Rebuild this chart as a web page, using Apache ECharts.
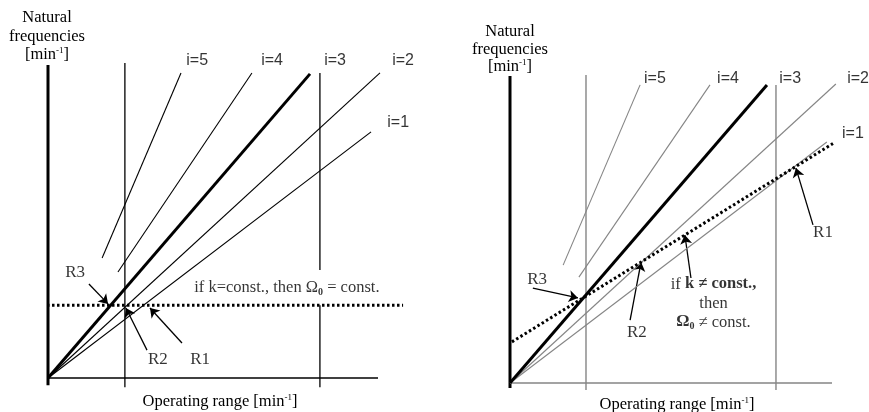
<!DOCTYPE html>
<html>
<head>
<meta charset="utf-8">
<script src="https://cdn.jsdelivr.net/npm/echarts@6/dist/echarts.min.js"></script>
<style>
html,body{margin:0;padding:0;background:#fff;}
#chart{width:869px;height:412px;}
</style>
</head>
<body>
<div id="chart"></div>
<script>
// ---------- DATA (units: operating range 0–100, natural frequency 0–100) ----------
// Left panel: k = const.
const leftAxisY      = [[0, -2.3], [0, 101]];
const leftAxisX      = [[0, 0], [100, 0]];
const leftRangeLo    = [[23.3, -3], [23.3, 101.6]];
const leftRangeHiTop = [[82.4, 34.8], [82.4, 98.4]];
const leftRangeHiBot = [[82.4, -3], [82.4, 23.5]];
const leftOrder1     = [[0, 0], [97.9, 79.4]];
const leftOrder2     = [[0, 0], [100.6, 98.4]];
const leftOrder3     = [[0, 0], [79.4, 98.1]];
const leftOrder4     = [[21.2, 34.2], [61.8, 98.4]];
const leftOrder5     = [[16.4, 38.7], [40.3, 98.4]];
const leftOmega      = [[-0.3, 23.5], [107.6, 23.5]];
const leftArrows     = [
  [[12.4, 30.3], [18.2, 23.9]],   // R3
  [[30.0, 9.0], [23.6, 22.6]],    // R2
  [[40.6, 11.3], [30.9, 22.6]]    // R1
];
const leftOrderLabels    = ['i=5', 'i=4', 'i=3', 'i=2', 'i=1'];
const leftOrderLabelAt   = [[45.2, 102.3], [67.9, 102.3], [87.0, 102.3], [107.6, 102.3], [106.1, 82.3]];
const leftResLabels      = ['R3', 'R2', 'R1'];
const leftResLabelAt     = [[8.2, 33.9], [33.3, 6.1], [46.1, 6.1]];
const leftNoteAt         = [[72.4, 29.0]];

// Right panel: k ≠ const.
const rightAxisY     = [[0, -1.6], [0, 100]];
const rightAxisX     = [[0, 0], [100, 0]];
const rightRangeLo   = [[23.6, -2.3], [23.6, 100.3]];
const rightRangeHi   = [[82.6, -2.3], [82.6, 97.1]];
const rightOrder1    = [[0, 0], [98.4, 78.5]];
const rightOrder2    = [[0, 0], [101.2, 97.4]];
const rightOrder3    = [[0, 0], [79.8, 97.1]];
const rightOrder4    = [[21.4, 34.5], [62.1, 97.1]];
const rightOrder5    = [[16.5, 38.4], [40.4, 97.1]];
const rightOmega     = [[0.6, 13.4], [100.3, 78.0]];
const rightArrows    = [
  [[7.1, 30.9], [21.1, 27.7]],    // R3
  [[37.3, 20.5], [40.7, 39.4]],   // R2
  [[56.2, 34.2], [54.3, 48.2]],   // note
  [[94.1, 51.5], [88.8, 70.0]]    // R1
];
const rightOrderLabels   = ['i=5', 'i=4', 'i=3', 'i=2', 'i=1'];
const rightOrderLabelAt  = [[45.0, 99.3], [67.7, 99.3], [87.0, 99.3], [108.1, 99.3], [106.5, 81.1]];
const rightResLabels     = ['R3', 'R2', 'R1'];
const rightResLabelAt    = [[8.4, 33.6], [39.4, 16.6], [97.2, 48.9]];
const rightNoteAt        = [[63.2, 26.0]];

const yTitleLines = ['Natural', 'frequencies', '[min{sup|-1}]'];
const xTitle = 'Operating range [min{sup|-1}]';

// ---------- STYLE ----------
const SERIF = '"Liberation Serif","Times New Roman",serif';
const SANS = '"Liberation Sans",Arial,sans-serif';
const BLACK = '#000';
const GRAY = '#858585';

function seg(data, g, color, width, type) {
  return {
    type: 'line', xAxisIndex: g, yAxisIndex: g, data: data,
    symbol: 'none', silent: true, animation: false,
    lineStyle: { color: color, width: width, type: type || 'solid', cap: 'butt' }
  };
}
function arrows(list, g) {
  return {
    type: 'lines', coordinateSystem: 'cartesian2d', xAxisIndex: g, yAxisIndex: g,
    symbol: ['none', 'arrow'], symbolSize: [0, 9], silent: true, animation: false,
    lineStyle: { color: BLACK, width: 1.3, opacity: 1, curveness: 0 },
    data: list.map(c => ({ coords: c }))
  };
}
function texts(pos, txt, g, font, size, extra) {
  return {
    type: 'scatter', xAxisIndex: g, yAxisIndex: g, symbolSize: 1, silent: true, animation: false,
    itemStyle: { color: 'rgba(0,0,0,0)' },
    data: pos.map(p => p.slice()),
    label: Object.assign({
      show: true, position: 'inside', color: BLACK, fontFamily: font, fontSize: size,
      formatter: (p) => txt[p.dataIndex]
    }, extra || {})
  };
}

const supRich = {
  t: { fontFamily: SERIF, fontSize: 16.5, color: BLACK, lineHeight: 18 },
  sup: { fontFamily: SERIF, fontSize: 9, color: BLACK, verticalAlign: 'top', lineHeight: 14 }
};
function richLine(s) {
  return s.split(/(\{sup\|[^}]*\})/).filter(x => x).map(x => x.startsWith('{sup') ? x : '{t|' + x + '}').join('');
}
function titleBlock(cx, topY, step) {
  return yTitleLines.map((l, i) => ({
    type: 'text', x: cx, y: topY + i * step, silent: true,
    style: { text: richLine(l), rich: supRich, align: 'center', verticalAlign: 'top' }
  }));
}

const option = {
  backgroundColor: '#fff',
  animation: false,
  grid: [
    { left: 31.5, top: 52.5, width: 386.1, height: 341 },
    { left: 493.9, top: 60.65, width: 370.3, height: 337.7 }
  ],
  xAxis: [
    { type: 'value', gridIndex: 0, min: -5, max: 112, show: false },
    { type: 'value', gridIndex: 1, min: -5, max: 110, show: false }
  ],
  yAxis: [
    { type: 'value', gridIndex: 0, min: -5, max: 105, show: false },
    { type: 'value', gridIndex: 1, min: -5, max: 105, show: false }
  ],
  graphic: [].concat(
    titleBlock(47, 9, 18.5),
    titleBlock(510, 23, 17.5),
    [
      { type: 'text', x: 220, y: 393, silent: true, style: { text: richLine(xTitle), rich: supRich, align: 'center', verticalAlign: 'top' } },
      { type: 'text', x: 677, y: 396, silent: true, style: { text: richLine(xTitle), rich: supRich, align: 'center', verticalAlign: 'top' } }
    ]
  ),
  series: [
    // left panel
    seg(leftAxisY, 0, BLACK, 3),
    seg(leftAxisX, 0, BLACK, 1.5),
    seg(leftRangeLo, 0, BLACK, 1.3),
    seg(leftRangeHiTop, 0, BLACK, 1.3),
    seg(leftRangeHiBot, 0, BLACK, 1.3),
    seg(leftOrder1, 0, BLACK, 1.1),
    seg(leftOrder2, 0, BLACK, 1.1),
    seg(leftOrder3, 0, BLACK, 3),
    seg(leftOrder4, 0, BLACK, 1.1),
    seg(leftOrder5, 0, BLACK, 1.1),
    seg(leftOmega, 0, BLACK, 3, [2.5, 2.5]),
    arrows(leftArrows, 0),
    texts(leftOrderLabelAt, leftOrderLabels, 0, SANS, 16),
    texts(leftResLabelAt, leftResLabels, 0, SERIF, 17),
    texts(leftNoteAt, ['{n|if k=const., then Ω}{sb|0}{n| = const.}'], 0, SERIF, 16, {
      rich: {
        n: { fontFamily: SERIF, fontSize: 16.5, color: BLACK, lineHeight: 18 },
        sb: { fontFamily: SERIF, fontSize: 10, fontWeight: 'bold', color: BLACK, verticalAlign: 'bottom', lineHeight: 14 }
      }
    }),
    // right panel
    seg(rightAxisY, 1, BLACK, 3),
    seg(rightAxisX, 1, GRAY, 1.5),
    seg(rightRangeLo, 1, GRAY, 1.4),
    seg(rightRangeHi, 1, GRAY, 1.4),
    seg(rightOrder1, 1, GRAY, 1.1),
    seg(rightOrder2, 1, GRAY, 1.1),
    seg(rightOrder3, 1, BLACK, 3),
    seg(rightOrder4, 1, GRAY, 1.1),
    seg(rightOrder5, 1, GRAY, 1.1),
    seg(rightOmega, 1, BLACK, 3, [2.5, 2.5]),
    arrows(rightArrows, 1),
    texts(rightOrderLabelAt, rightOrderLabels, 1, SANS, 16),
    texts(rightResLabelAt, rightResLabels, 1, SERIF, 17),
    texts(rightNoteAt, ['{n|if }{b|k ≠ const.,}\n{n|then}\n{b|Ω}{sb|0}{n| ≠ const.}'], 1, SERIF, 16, {
      align: 'center',
      rich: {
        n: { fontFamily: SERIF, fontSize: 16.5, color: BLACK, lineHeight: 19, align: 'center' },
        b: { fontFamily: SERIF, fontSize: 16.5, fontWeight: 'bold', color: BLACK, lineHeight: 19, align: 'center' },
        sb: { fontFamily: SERIF, fontSize: 10, fontWeight: 'bold', color: BLACK, verticalAlign: 'bottom', lineHeight: 14 }
      }
    })
  ]
};

const chart = echarts.init(document.getElementById('chart'), null, { renderer: 'canvas' });
chart.setOption(option);
</script>
</body>
</html>
